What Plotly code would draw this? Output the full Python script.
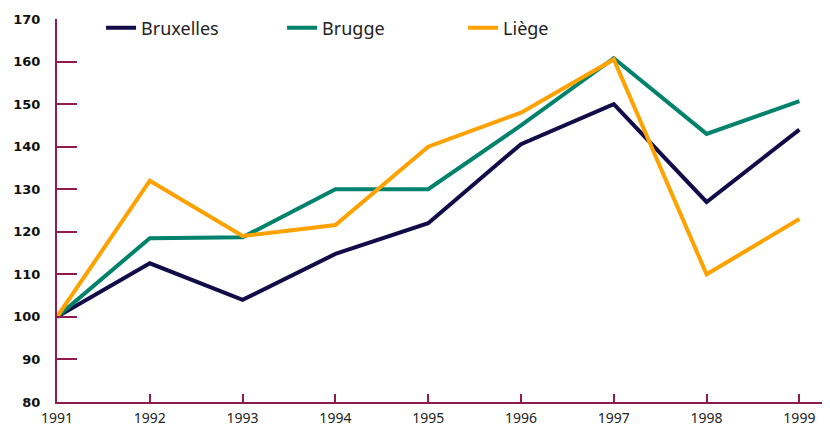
import plotly.graph_objects as go

years = [1991, 1992, 1993, 1994, 1995, 1996, 1997, 1998, 1999]
bruxelles = [100, 112.6, 104, 114.8, 122, 140.6, 150, 127, 144]
brugge = [100, 118.5, 118.7, 130, 130, 145, 160.8, 143, 150.7]
liege = [100, 132, 119, 121.6, 140, 148, 160.5, 110, 123]
y_ticks = [80, 90, 100, 110, 120, 130, 140, 150, 160, 170]

series = [
    ("Bruxelles", bruxelles, "#120C48"),
    ("Brugge", brugge, "#00826C"),
    ("Liège", liege, "#FFA200"),
]

axis_color = "#8E1A4E"

fig = go.Figure()
for name, vals, col in series:
    fig.add_trace(go.Scatter(
        x=years, y=vals, name=name, mode="lines",
        line=dict(color=col, width=4),
    ))

# page body has an 8px default margin, so the figure is sized 822x420
fig.update_layout(
    width=822, height=420,
    margin=dict(l=49, r=0, t=11, b=26, autoexpand=False),
    plot_bgcolor="white", paper_bgcolor="white",
    showlegend=True,
    legend=dict(
        orientation="h", x=0.057, y=1.025, xanchor="left", yanchor="top",
        entrywidth=136, entrywidthmode="pixels",
        font=dict(family="Noto Sans", size=18, color="#222222"),
        bgcolor="rgba(0,0,0,0)",
    ),
)
fig.update_xaxes(
    range=[1991, 1999.33], tickvals=years, ticktext=[str(y) for y in years],
    showgrid=False, zeroline=False, automargin=False,
    showline=True, linecolor=axis_color, linewidth=2,
    ticks="inside", ticklen=8, tickwidth=2, tickcolor=axis_color,
    ticklabelstandoff=2,
    tickfont=dict(family="Noto Sans", size=14, color="#222222"),
)
fig.update_yaxes(
    range=[80, 170], tickvals=y_ticks,
    showgrid=False, zeroline=False, automargin=False,
    showline=True, linecolor=axis_color, linewidth=2,
    ticks="inside", ticklen=20, tickwidth=2, tickcolor=axis_color,
    ticklabelstandoff=12,
    tickfont=dict(family="DejaVu Sans", size=13, color="#111111", weight="bold"),
)

fig.write_html("out.html")
